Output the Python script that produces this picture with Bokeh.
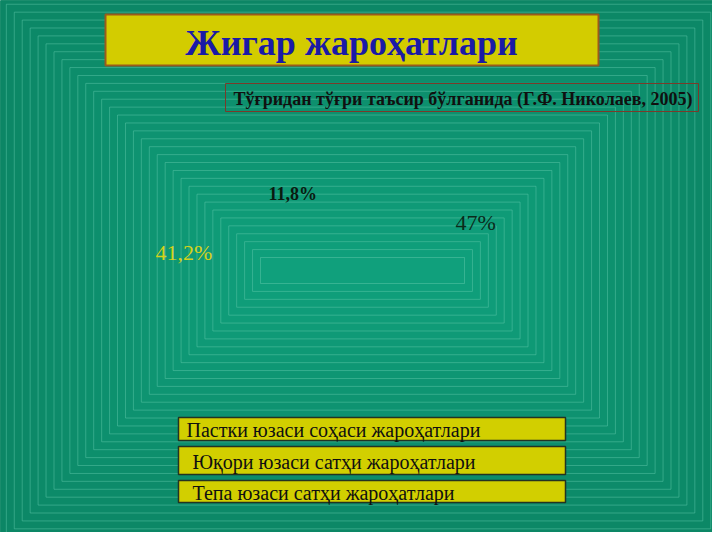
import numpy as np
from bokeh.plotting import figure
from bokeh.models import Range1d
from bokeh.core.properties import value
from bokeh.embed import file_html
from bokeh.resources import INLINE

# ---- data ----
title = "Жигар жароҳатлари"
subtitle = "Тўғридан тўғри таъсир бўлганида (Г.Ф. Николаев, 2005)"
categories = ["Пастки юзаси соҳаси жароҳатлари",
              "Юқори юзаси сатҳи жароҳатлари",
              "Тепа юзаси сатҳи жароҳатлари"]
shares = [47.0, 41.2, 11.8]
share_labels = ["47%", "41,2%", "11,8%"]

# ---- layout / style (kept apart from the data) ----
label_pos = [(455, 222), (155, 252), (268, 193)]
label_size = ["22px", "22px", "18px"]
label_style = ["normal", "normal", "bold"]
label_color = ["#0a2a1a", "#d6d21a", "#0a1a10"]
SERIF = value("Liberation Serif")

p = figure(width=712, height=532, x_range=Range1d(0, 712), y_range=Range1d(532, 0),
           output_backend="svg", toolbar_location=None, min_border=0,
           background_fill_color="#0d8766", border_fill_color="#0d8766")
p.axis.visible = False
p.grid.visible = False
p.outline_line_color = None

# background: concentric rectangles
n = 36
cx, cy = 362, 270
hw = np.linspace(380, 102, n)
hh = np.linspace(290, 13, n)
t = np.linspace(0, 1, n)
c0 = np.array([0x0c, 0x85, 0x64]); c1 = np.array([0x10, 0xa0, 0x7c])
fills = ["#%02x%02x%02x" % tuple((c0 + (c1 - c0) * ti).astype(int)) for ti in t]
p.quad(left=cx - hw, right=cx + hw, top=cy - hh, bottom=cy + hh,
       fill_color=fills, line_color="#66cdb0", line_alpha=0.45, line_width=1)

# title box
p.quad(left=[105], right=[598], top=[14], bottom=[65], fill_color="#d3cc00",
       line_color="#9a5a1c", line_width=2)
p.text(x=[351], y=[42], text=[title], text_font=SERIF, text_font_size="36px",
       text_font_style="bold", text_color="#1a1aa6", text_align="center",
       text_baseline="middle")

# subtitle box
p.quad(left=[225], right=[698], top=[83], bottom=[111], fill_alpha=0,
       line_color="#7a3a2a", line_width=1)
p.text(x=[233], y=[98], text=[subtitle], text_font=SERIF, text_font_size="18px",
       text_font_style="bold", text_color="#101010", text_align="left",
       text_baseline="middle")

# pie value labels
for (lx, ly), lab, fs, st, col in zip(label_pos, share_labels, label_size, label_style, label_color):
    p.text(x=[lx], y=[ly], text=[lab], text_font=SERIF, text_font_size=fs,
           text_font_style=st, text_color=col, text_align="left", text_baseline="middle")

# legend boxes
box_top = [417, 446, 480]
box_bot = [440, 474, 502]
text_x = [186, 192, 192]
p.quad(left=[178] * 3, right=[565] * 3, top=box_top, bottom=box_bot,
       fill_color="#d2cf00", line_color="#233322", line_width=1.5)
p.text(x=text_x, y=[(a + b) / 2 + 1 for a, b in zip(box_top, box_bot)], text=categories,
       text_font=SERIF, text_font_size="20px", text_color="#101010",
       text_align="left", text_baseline="middle")

open("out.html", "w").write(file_html(p, INLINE))
